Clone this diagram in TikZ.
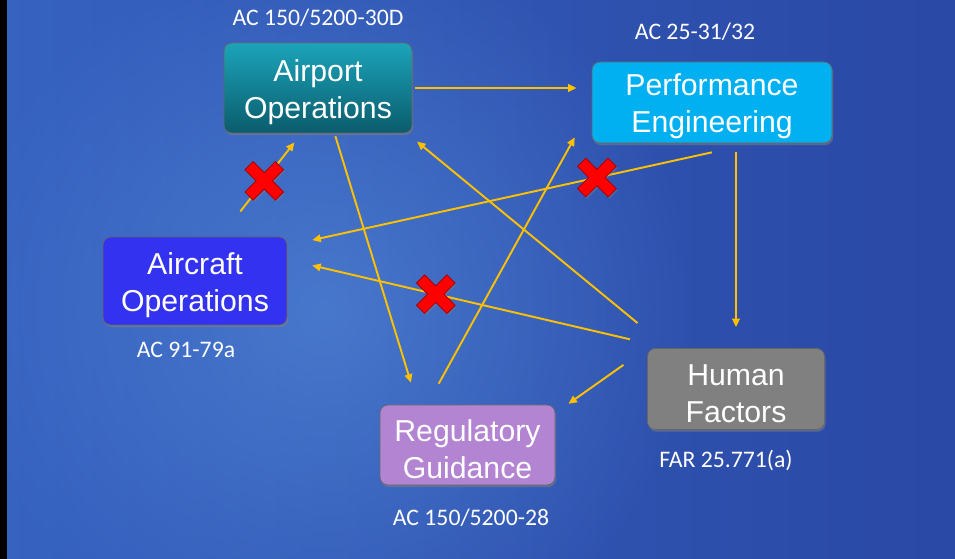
\documentclass[tikz,border=0pt]{standalone}
\usepackage{fontspec}
\setmainfont{Liberation Sans}
\newfontfamily\reffont{Carlito}
\usetikzlibrary{arrows.meta,shadows,fadings}

\definecolor{bgleft}{RGB}{54,98,192}
\definecolor{bgmid}{RGB}{60,108,200}
\definecolor{bgright}{RGB}{42,72,165}
\definecolor{bglight}{RGB}{86,140,218}
\definecolor{flowc}{RGB}{255,192,0}
\definecolor{crossred}{RGB}{255,0,0}
\definecolor{crossdark}{RGB}{170,0,0}
\definecolor{aotop}{RGB}{28,164,186}
\definecolor{aobot}{RGB}{10,92,108}
\definecolor{pefill}{RGB}{0,176,240}
\definecolor{acfill}{RGB}{50,50,240}
\definecolor{hffill}{RGB}{128,128,128}
\definecolor{rgfill}{RGB}{178,132,210}

\tikzfading[name=glow, inner color=transparent!0, outer color=transparent!100]

\tikzset{
  box/.style={rounded corners=0.16cm, inner sep=0pt, align=center, text=white,
    font=\fontsize{17.2}{21}\selectfont, draw=black!60, line width=0.4pt,
    drop shadow={shadow xshift=0.6pt, shadow yshift=-1.2pt, opacity=0.55}},
  flow/.style={draw=flowc, line width=1.1pt, -{Triangle[length=1.7mm,width=1.5mm]}},
  reftext/.style={text=white, font=\reffont\fontsize{13.5}{16}\selectfont},
  pics/crossmark/.style={code={
    \fill[crossred, draw=crossdark, line width=0.5pt, rotate=45,
      drop shadow={shadow xshift=0.8pt, shadow yshift=-1pt, opacity=0.4}]
      (-0.115,0.43) -- (0.115,0.43) -- (0.115,0.115) -- (0.43,0.115) -- (0.43,-0.115)
      -- (0.115,-0.115) -- (0.115,-0.43) -- (-0.115,-0.43) -- (-0.115,-0.115)
      -- (-0.43,-0.115) -- (-0.43,0.115) -- (-0.115,0.115) -- cycle;
  }}
}
\newcommand{\lift}{\rule{0pt}{16.8pt}}

\begin{document}
\begin{tikzpicture}
   \useasboundingbox (0,0) rectangle (19.1,-11.18);
   \shade [left color=bgleft, middle color=bgmid, right color=bgright] (0,0) rectangle (19.1,-11.18);
   \fill [bglight, opacity=0.6, path fading=glow] (6.5,-6.2) circle (7.5cm);
   \fill [black] (0,0) rectangle (0.15,-11.18);

   % boxes
   \node [box, top color=aotop, bottom color=aobot, minimum width=3.76cm, minimum height=1.8cm] (ao) at (6.36,-1.76) {\lift Airport\\Operations};
   \node [box, fill=pefill, minimum width=4.8cm, minimum height=1.62cm] (pe) at (14.24,-2.05) {\lift Performance\\Engineering};
   \node [box, fill=acfill, minimum width=3.68cm, minimum height=1.76cm] (ac) at (3.9,-5.62) {\lift Aircraft\\Operations};
   \node [box, fill=hffill, minimum width=3.54cm, minimum height=1.62cm] (hf) at (14.72,-7.78) {\lift Human\\Factors};
   \node [box, fill=rgfill, minimum width=3.5cm, minimum height=1.6cm] (rg) at (9.35,-8.9) {\lift Regulatory\\Guidance};

   % references
   \node [reftext] (ao-ref) at (6.36,-0.36) {AC 150/5200-30D};
   \node [reftext] (pe-ref) at (13.9,-0.64) {AC 25-31/32};
   \node [reftext] (ac-ref) at (3.72,-7.0) {AC 91-79a};
   \node [reftext] (hf-ref) at (14.52,-9.2) {FAR 25.771(a)};
   \node [reftext] (rg-ref) at (9.42,-10.36) {AC 150/5200-28};

   % links
   \draw [flow, shorten <=0.06cm, shorten >=0.3cm] (ao.east) -- (ao.east -| pe.west);
   \draw [flow, shorten <=0.64cm, shorten >=0.23cm] (ac.60) -- coordinate[pos=0.54] (x-ac) (ao.250);
   \draw [flow, shorten <=0.84cm, shorten >=0.51cm] (pe.315) -- coordinate[pos=0.335] (x-pe) (ac.21.6);
   \draw [flow, shorten <=0.78cm, shorten >=0.51cm] (hf.149) -- coordinate[pos=0.61] (x-hf) (ac.13.4);
   \draw [flow, shorten <=0.79cm, shorten >=0.26cm] (hf.149) -- (ao.-27.1);
   \draw [flow, shorten <=0.06cm, shorten >=0.46cm] (ao.-70.4) -- (rg.141.8);
   \draw [flow, shorten <=0.48cm, shorten >=0.7cm] (rg.135.1) -- (pe.182.8);
   \draw [flow, shorten <=0.18cm, shorten >=0.42cm] (hf.north |- pe.south) -- (hf.north);
   \draw [flow, shorten <=0.58cm, shorten >=0.32cm] (hf.north west) -- (rg.20.7);

   % crossed out
   \pic at (x-ac) {crossmark};
   \pic at (x-pe) {crossmark};
   \pic at (x-hf) {crossmark};

\end{tikzpicture}
\end{document}
